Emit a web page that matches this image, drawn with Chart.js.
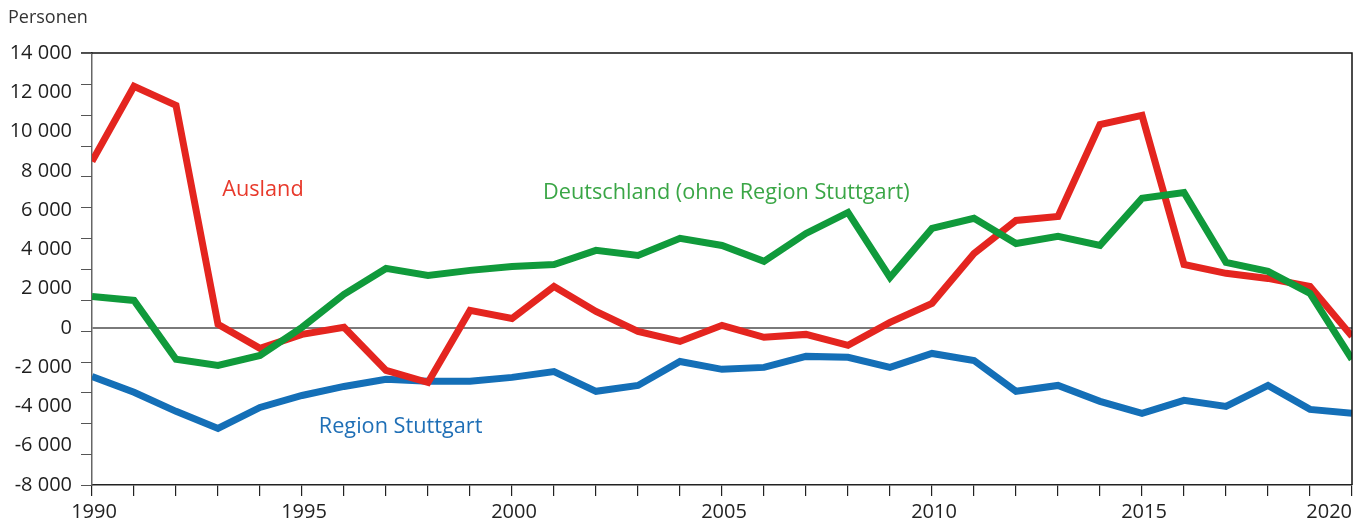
<!DOCTYPE html>
<html lang="de">
<head>
<meta charset="utf-8">
<script src="https://cdn.jsdelivr.net/npm/chart.js@4.4.1/dist/chart.umd.min.js"></script>
<style>
html,body{margin:0;padding:0;background:#fff}
canvas{display:block}
</style>
</head>
<body>
<canvas id="wanderung" width="1370" height="527"></canvas>
<script>
/* ===== Wanderungssaldo Region Stuttgart 1990-2020 ===== */
const jahre=['1990','1991','1992','1993','1994','1995','1996','1997','1998','1999','2000',
  '2001','2002','2003','2004','2005','2006','2007','2008','2009','2010',
  '2011','2012','2013','2014','2015','2016','2017','2018','2019','2020'];

const ausland=[8480,12300,11330,180,-1040,-330,30,-2160,-2780,890,480,
  2110,840,-180,-690,130,-480,-330,-890,280,1250,
  3790,5470,5680,10360,10820,3230,2780,2520,2110,-430];

const deutschland=[1600,1400,-1600,-1910,-1400,30,1710,3030,2670,2930,3130,
  3230,3950,3690,4560,4200,3390,4810,5880,2570,5070,
  5580,4300,4660,4200,6600,6900,3340,2880,1760,-1600];

const regionStuttgart=[-2470,-3280,-4250,-5120,-4050,-3440,-2980,-2620,-2720,-2720,-2520,
  -2220,-3230,-2930,-1710,-2110,-2010,-1450,-1500,-2010,-1300,
  -1660,-3230,-2930,-3740,-4350,-3690,-4000,-2930,-4150,-4350];

const xLabelJahre=['1990','1995','2000','2005','2010','2015','2020'];

// Beschriftungen der Linien (Position in Jahr-Index / Personen)
const serienText=['Ausland','Deutschland (ohne Region Stuttgart)','Region Stuttgart'];
const serienTextX=[3.1,10.74,5.4];
const serienTextY=[7030,6880,-5040];
const serienTextFarbe=['#e8392b','#3aa646','#1f6fb6'];

const FONT='"Open Sans", "Noto Sans", sans-serif';
const fmtPers=v=>(v<0?'-':'')+String(Math.abs(v)).replace(/\B(?=(\d{3})+(?!\d))/g,' ');

const extras={
  id:'extras',
  afterDraw(chart){
    const {ctx,chartArea:a,scales}=chart;
    const xs=scales.x,ys=scales.y;
    ctx.save();
    // Rahmen oben + rechts
    ctx.strokeStyle='#111';ctx.lineWidth=1.5;
    ctx.beginPath();
    ctx.moveTo(a.left-11,a.top);ctx.lineTo(a.right,a.top);ctx.lineTo(a.right,a.bottom);
    ctx.stroke();
    // Teilstriche links
    ctx.strokeStyle='#555';ctx.lineWidth=1.2;
    const n=14,h=(a.bottom-a.top)/n;
    ctx.beginPath();
    for(let i=0;i<=n;i++){const y=Math.round(a.top+i*h)+0.5;ctx.moveTo(a.left-11,y);ctx.lineTo(a.left,y);}
    ctx.stroke();
    // x-Beschriftung
    ctx.fillStyle='#222';ctx.font='20px '+FONT;ctx.textBaseline='middle';
    jahre.forEach((j,i)=>{
      if(!xLabelJahre.includes(j))return;
      ctx.textAlign=i===jahre.length-1?'right':'center';
      ctx.fillText(j,xs.getPixelForValue(i)+(i===jahre.length-1?0:2),xs.top+27);
    });
    // Einheit
    ctx.textAlign='left';ctx.font='18px '+FONT;ctx.fillStyle='#333';
    ctx.fillText('Personen',8,18);
    // Linienbeschriftungen
    ctx.font='21.7px '+FONT;
    serienText.forEach((t,i)=>{
      ctx.fillStyle=serienTextFarbe[i];
      ctx.fillText(t,xs.getPixelForValue(serienTextX[i]),ys.getPixelForValue(serienTextY[i]));
    });
    ctx.restore();
  }
};

const ds=(data,color)=>({data,borderColor:color,borderWidth:7,pointRadius:0,tension:0,fill:false,clip:0,borderJoinStyle:'miter'});

new Chart(document.getElementById('wanderung'),{
  type:'line',
  data:{labels:jahre,datasets:[
    ds(deutschland,'#109a3b'),
    ds(ausland,'#e4251f'),
    ds(regionStuttgart,'#146fb7')
  ]},
  options:{
    responsive:false,animation:false,
    layout:{padding:{top:53,right:18,left:0,bottom:0}},
    plugins:{legend:{display:false},tooltip:{enabled:false}},
    scales:{
      x:{type:'category',offset:false,
        ticks:{display:false,autoSkip:false},
        grid:{drawOnChartArea:false,drawTicks:true,tickLength:11,color:'#222',lineWidth:1.2},
        border:{display:true,color:'#222',width:1.5},
        afterFit:s=>{s.height=42;}},
      y:{min:-8000,max:14000,
        ticks:{stepSize:2000,padding:20,color:'#1e1e1e',font:{family:FONT,size:20},callback:v=>fmtPers(v)},
        grid:{drawTicks:false,lineWidth:2,color:c=>c.tick&&c.tick.value===0?'#7a7a7a':'rgba(0,0,0,0)'},
        border:{display:true,color:'#666',width:1.5},
        afterFit:s=>{s.width=92;}}
    }
  },
  plugins:[extras]
});
</script>
</body>
</html>
